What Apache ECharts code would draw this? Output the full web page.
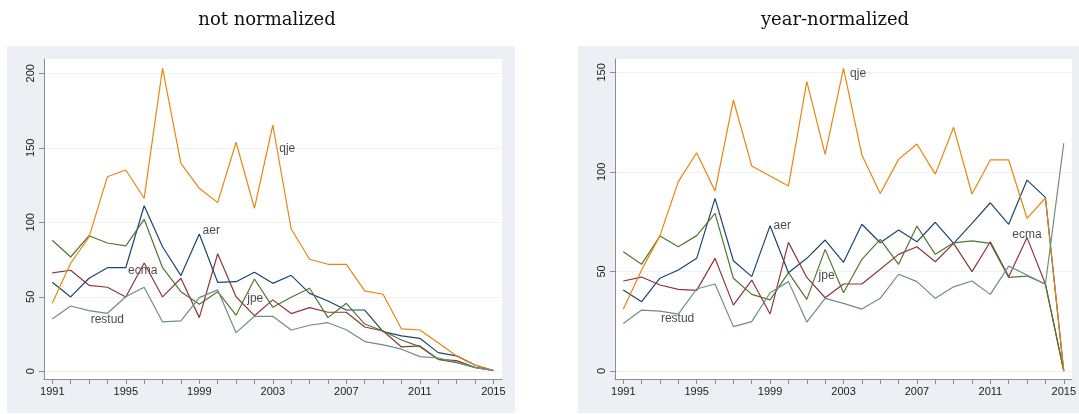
<!DOCTYPE html>
<html>
<head>
<meta charset="utf-8">
<script src="https://cdn.jsdelivr.net/npm/echarts@6/dist/echarts.min.js"></script>
<style>
html,body{margin:0;padding:0;background:#fff;}
#main{width:1079px;height:414px;}
</style>
</head>
<body>
<div id="main"></div>
<script>
const years = [1991,1992,1993,1994,1995,1996,1997,1998,1999,2000,2001,2002,2003,2004,2005,2006,2007,2008,2009,2010,2011,2012,2013,2014,2015];
const xTickLabels = [1991,1995,1999,2003,2007,2011,2015];
const yTicksLeft = [0,50,100,150,200];
const yTicksRight = [0,50,100,150];
const journals = ['aer','ecma','jpe','qje','restud'];
const titles = ['not normalized','year-normalized'];

// not normalized
const aerL    = [59.7,49.9,62.4,69.5,69.5,111.1,83.6,64.2,92.1,59.7,60.1,66.4,59,64.4,52.3,47.2,41.1,41.1,26.6,23.7,22.1,12.5,10.3,4.2,0.5];
const ecmaL   = [66,67.8,57.7,56.4,49.9,72.7,49.9,62.4,36,78.9,50,37.3,47.9,38.7,42.7,39.6,39.6,29.7,27,16.3,17,8,7.1,2.6,0.5];
const jpeL    = [87.9,76.7,91,86.1,84.1,102,69.5,53.4,45,53.4,37.6,61.9,42.9,49.7,55.7,36,45.6,31.7,27,21,16.5,8,5.8,2.6,0.5];
const qjeL    = [45.6,72.5,90,130.6,135.1,116.1,203.4,139.6,122.8,113.2,153.7,109.4,165.3,95.5,75.2,71.8,71.8,53.9,51.7,28.4,27.7,19.2,10.3,4.2,0.5];
const restudL = [35.1,43.8,40.7,38.9,50,56.4,33.1,33.8,49.4,54.6,25.9,36.9,36.9,27.7,30.9,32.6,27.9,19.9,17.7,14.8,9.8,8.9,6.2,2.4,0.5];

// year-normalized
const aerR    = [40.7,34.8,46.6,50.7,56.6,86.7,55.4,47.4,73,49.4,56.6,65.8,54.6,73.7,64.4,70.8,64.9,74.7,64.1,74.2,84.5,73.7,95.9,87.2,0];
const ecmaR   = [45.2,47.2,43.2,41,40.5,56.6,33.1,45.7,28.6,64.6,47,36.8,43.7,43.7,51.1,58.6,62.4,54.9,64.1,49.9,64.9,47.4,67,43.7,0];
const jpeR    = [59.9,53.6,67.8,62.4,68,79.2,46.6,38.5,35.7,49.4,36,61.1,39.3,56.1,66.1,53.6,72.8,58.6,64.4,65.4,64.1,47,47.7,43.7,0];
const qjeR    = [31,50.7,68,95.1,109.6,90.4,136.1,103,97.9,92.9,145.3,108.8,152,108.5,89.2,106.3,114,98.9,122.4,88.9,106,106,76.7,86.9,0];
const restudR = [23.9,30.6,30.1,28.6,41.2,43.7,22.3,24.8,39.3,44.9,24.6,36.5,34,31.1,36.5,48.6,44.9,36.5,42.3,45.2,38.5,52.7,48.2,43.6,114.4];

// text labels placed in data units: [year, value, text]
const labelsL = [[2003.35,149.2,'qje'],[1999.18,94.4,'aer'],[1995.12,67.3,'ecma'],[2001.61,49,'jpe'],[1993.09,34.9,'restud']];
const labelsR = [[2003.36,149.5,'qje'],[1999.19,72.8,'aer'],[2012.2,68.7,'ecma'],[2001.64,48.1,'jpe'],[1993.05,26.1,'restud']];

const colors = ['#1a476f','#90353b','#55752f','#e8860f','#6e8e84'];
const seriesL = [aerL,ecmaL,jpeL,qjeL,restudL];
const seriesR = [aerR,ecmaR,jpeR,qjeR,restudR];

const axisGray = '#8c8c8c';
const bg = '#ecf0f5';

function xAxis(gi, min, max){
  return {
    type:'value', gridIndex:gi, min:min, max:max,
    axisLine:{show:true, onZero:false, lineStyle:{color:axisGray, width:1}},
    axisTick:{show:true, length:5, customValues:years, lineStyle:{color:axisGray}},
    axisLabel:{customValues:xTickLabels, formatter:v=>String(v), fontFamily:'Liberation Sans', fontSize:11, color:'#1a1a1a', margin:7},
    splitLine:{show:false}
  };
}
function yAxis(gi, min, max, ticks){
  return {
    type:'value', gridIndex:gi, min:min, max:max,
    axisLine:{show:true, onZero:false, lineStyle:{color:axisGray, width:1}},
    axisTick:{show:true, length:5, customValues:ticks, lineStyle:{color:axisGray}},
    axisLabel:{customValues:ticks, rotate:90, formatter:v=>String(v), fontFamily:'Liberation Sans', fontSize:11, color:'#1a1a1a', margin:8},
    splitLine:{show:true, lineStyle:{color:'#eef2f5', width:1}}
  };
}

const series = [];
[seriesL, seriesR].forEach((set, gi) => {
  set.forEach((vals, i) => {
    series.push({
      type:'line', name:journals[i]+gi, xAxisIndex:gi, yAxisIndex:gi,
      data: years.map((y,k)=>[y, vals[k]]),
      showSymbol:false, symbol:'none', silent:true, animation:false,
      lineStyle:{color:colors[i], width:1.2}
    });
  });
  const lbl = gi===0 ? labelsL : labelsR;
  series.push({
    type:'scatter', xAxisIndex:gi, yAxisIndex:gi, symbolSize:0, silent:true, animation:false,
    data: lbl.map(d=>({value:[d[0],d[1]], name:d[2]})),
    label:{show:true, position:'right', distance:0, formatter:p=>p.name, fontFamily:'Liberation Sans', fontSize:12, color:'#1a1a1a'}
  });
});

const chart = echarts.init(document.getElementById('main'), null, {renderer:'canvas'});
chart.setOption({
  animation:false,
  backgroundColor:'#ffffff',
  graphic:[
    {type:'rect', z:-10, shape:{x:7, y:46, width:508, height:367}, style:{fill:bg}},
    {type:'rect', z:-10, shape:{x:578, y:46, width:501, height:367}, style:{fill:bg}}
  ],
  title:[
    {text:titles[0], left:262, top:6, textAlign:'center', textStyle:{fontFamily:'DejaVu Serif', fontSize:18, fontWeight:'normal', color:'#111'}},
    {text:titles[1], left:830, top:6, textAlign:'center', textStyle:{fontFamily:'DejaVu Serif', fontSize:18, fontWeight:'normal', color:'#111'}}
  ],
  grid:[
    {left:44, top:59, width:458, height:320, show:true, backgroundColor:'#ffffff', borderWidth:0},
    {left:615, top:59, width:458, height:320, show:true, backgroundColor:'#ffffff', borderWidth:0}
  ],
  xAxis:[xAxis(0,1990.55,2015.47), xAxis(1,1990.55,2015.44)],
  yAxis:[yAxis(0,-5.2,209.6,yTicksLeft), yAxis(1,-4.0,156.7,yTicksRight)],
  series:series
});
</script>
</body>
</html>
